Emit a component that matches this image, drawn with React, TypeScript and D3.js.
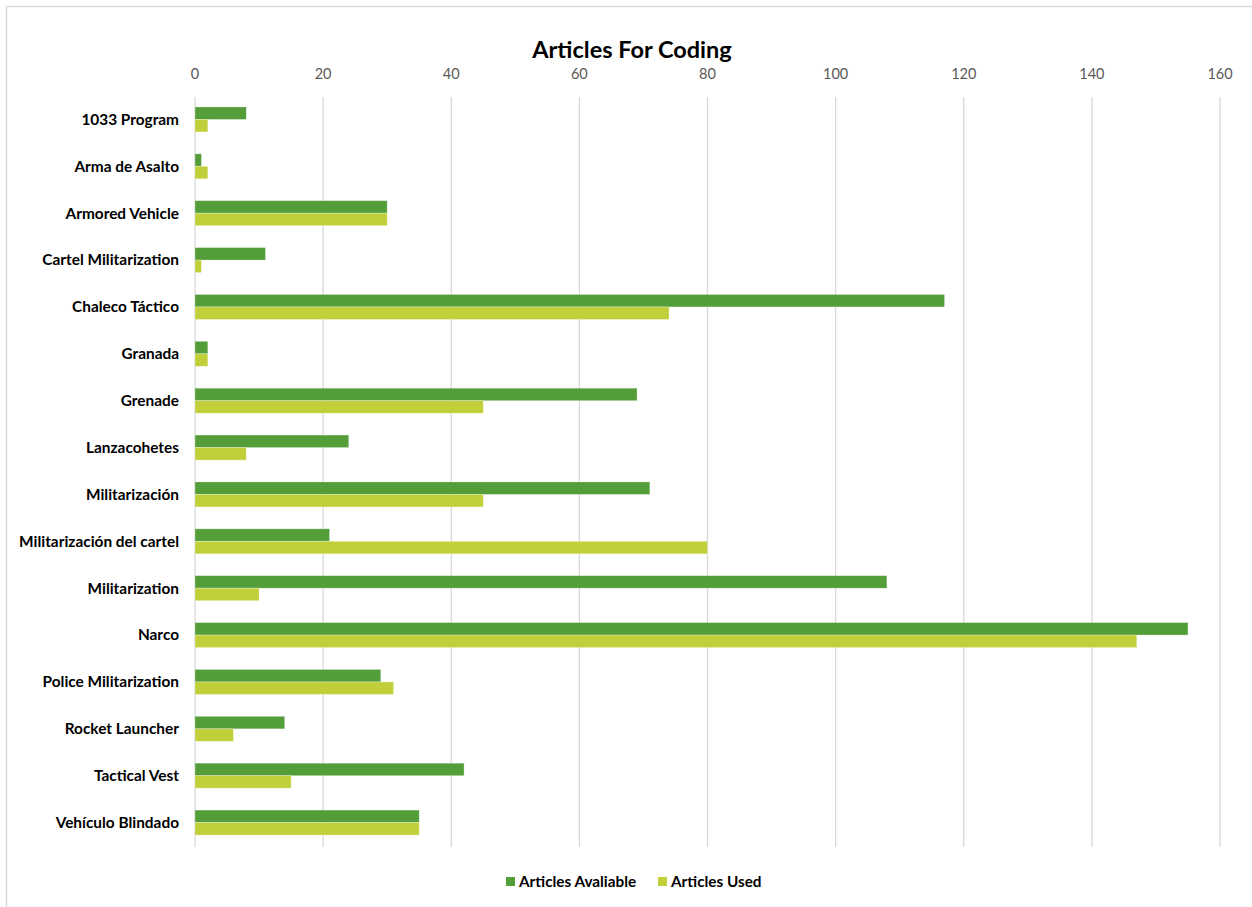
import React from "react";
import * as d3 from "d3";

const categories = [
  "1033 Program",
  "Arma de Asalto",
  "Armored Vehicle",
  "Cartel Militarization",
  "Chaleco Táctico",
  "Granada",
  "Grenade",
  "Lanzacohetes",
  "Militarización",
  "Militarización del cartel",
  "Militarization",
  "Narco",
  "Police Militarization",
  "Rocket Launcher",
  "Tactical Vest",
  "Vehículo Blindado",
];
const articlesAvailable = [8, 1, 30, 11, 117, 2, 69, 24, 71, 21, 108, 155, 29, 14, 42, 35];
const articlesUsed = [2, 2, 30, 1, 74, 2, 45, 8, 45, 80, 10, 147, 31, 6, 15, 35];
const seriesNames = ["Articles Avaliable", "Articles Used"];
const seriesColors = ["#549E39", "#C0CF3A"];
const xTicks = [0, 20, 40, 60, 80, 100, 120, 140, 160];
const title = "Articles For Coding";

const W = 1252;
const H = 907;
const FONT = "Lato, 'Open Sans', sans-serif";

export default function App() {
  const x = d3.scaleLinear().domain([0, 160]).range([195, 1220]);
  const y = d3
    .scaleBand<string>()
    .domain(categories)
    .range([96, 846])
    .paddingInner(0.4667)
    .paddingOuter(0.2333);
  const inner = d3.scaleBand<string>().domain(seriesNames).range([0, y.bandwidth()]);
  const series = [articlesAvailable, articlesUsed];

  const legendItems = [
    { name: seriesNames[0], color: seriesColors[0], x: 506 },
    { name: seriesNames[1], color: seriesColors[1], x: 658 },
  ];

  return (
    <svg
      width={W}
      height={H}
      style={{ position: "absolute", left: 0, top: 0, background: "#fff" }}
      fontFamily={FONT}
    >
      <rect x={0} y={0} width={W} height={H} fill="#fff" />
      <line x1={6.5} x2={W} y1={6.5} y2={6.5} stroke="#d9d9d9" strokeWidth={1.5} />
      <line x1={6.5} x2={6.5} y1={6.5} y2={H} stroke="#d9d9d9" strokeWidth={1.5} />

      <text x={632} y={58} textAnchor="middle" fontSize={23.5} fontWeight={700} fill="#000">
        {title}
      </text>

      {xTicks.map((t) => (
        <g key={t}>
          <line x1={x(t)} x2={x(t)} y1={97} y2={847} stroke="#d9d9d9" strokeWidth={1.3} />
          <text x={x(t)} y={79} textAnchor="middle" fontSize={14.5} fill="#595959">
            {t}
          </text>
        </g>
      ))}

      {categories.map((c, i) => (
        <g key={c}>
          {series.map((vals, s) => (
            <rect
              key={s}
              x={x(0)}
              y={(y(c) as number) + (inner(seriesNames[s]) as number)}
              width={x(vals[i]) - x(0)}
              height={inner.bandwidth()}
              fill={seriesColors[s]}
              stroke="#ffffff"
              strokeOpacity={0.35}
              strokeWidth={0.8}
            />
          ))}
          <text
            x={179}
            y={(y(c) as number) + y.bandwidth() / 2}
            dy="0.35em"
            textAnchor="end"
            fontSize={15.4}
            fontWeight={700}
            fill="#000"
          >
            {c}
          </text>
        </g>
      ))}

      {legendItems.map((l) => (
        <g key={l.name}>
          <rect x={l.x} y={877} width={9} height={9} fill={l.color} />
          <text x={l.x + 13} y={882} dy="0.35em" fontSize={15.3} fontWeight={700} fill="#000">
            {l.name}
          </text>
        </g>
      ))}
    </svg>
  );
}
